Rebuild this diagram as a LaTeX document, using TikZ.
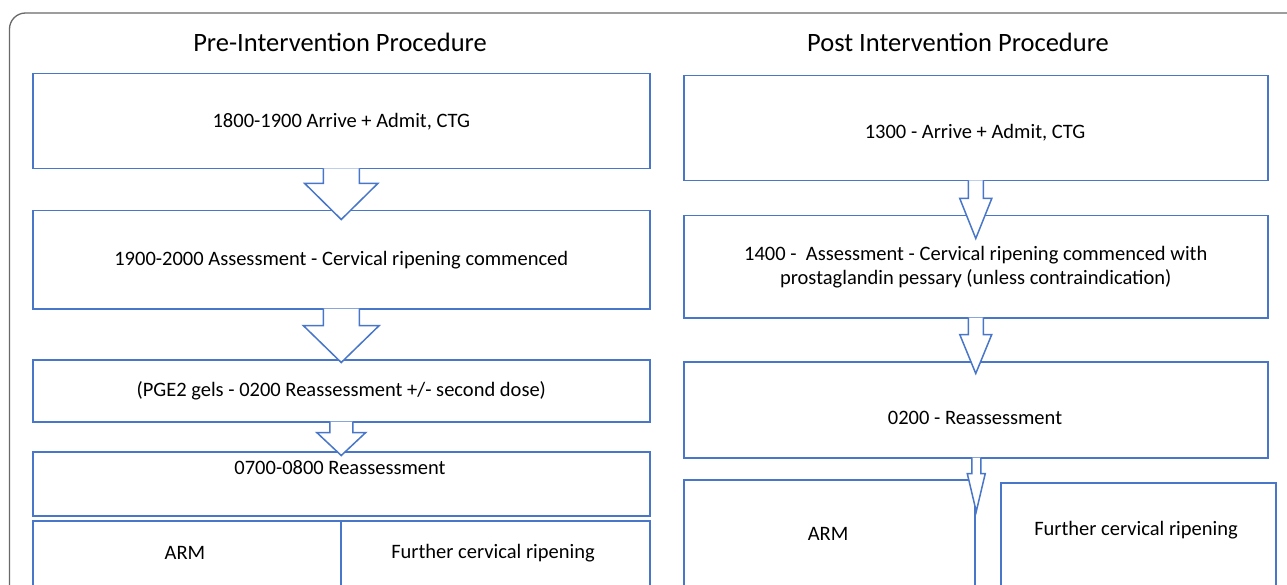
\documentclass[tikz,border=0pt]{standalone}
\usepackage{fontspec}
\setmainfont{Carlito}
\usetikzlibrary{calc}
\definecolor{boxblue}{RGB}{72,118,200}
\definecolor{framegray}{RGB}{105,105,105}
\tikzset{
  box/.style={draw=boxblue, line width=1.5pt, fill=white, rectangle, inner sep=0pt, anchor=north west, align=center, font=\fontsize{20.5}{24}\selectfont},
  txt/.style={inner sep=0pt, align=center, font=\fontsize{20.5}{24}\selectfont},
  ttl/.style={inner sep=0pt, font=\fontsize{26.5}{30}\selectfont},
  barr/.style={draw=boxblue, line width=1.5pt, fill=white, line join=miter},
}
% #1 source node, #2 x-shift of centre, #3 shaft half width, #4 head half width, #5 head start (down), #6 tip (down)
\newcommand\blockarrow[6]{%
  \begin{scope}[shift={($(#1.south)+(#2,0)$)}]
    \draw[barr] (-#3,-1) -- (-#3,#5) -- (-#4,#5) -- (0,#6) -- (#4,#5) -- (#3,#5) -- (#3,-1);
  \end{scope}}
\begin{document}
\begin{tikzpicture}[x=1pt,y=-1pt]
\useasboundingbox (0,0) rectangle (1287,585);
\clip (0,0) rectangle (1287,585);
\fill[white] (0,0) rectangle (1287,585);
% outer frame
\draw[framegray, line width=1.3pt, rounded corners=16pt] (9.5,600) -- (9.5,13) -- (1300,13);

% titles
\node[ttl] (t1) at (340,42) {Pre-Intervention Procedure};
\node[ttl] (t2) at (958,42) {Post Intervention Procedure};

% left column
\node[box, minimum width=617, minimum height=95] (p1) at (32,73) {1800-1900 Arrive + Admit, CTG};
\node[box, minimum width=617, minimum height=98] (p2) at (32,210) {1900-2000 Assessment - Cervical ripening commenced};
\node[box, minimum width=617, minimum height=62] (p3) at (32,359) {(PGE2 gels - 0200 Reassessment +/- second dose)};
\node[box, minimum width=617, minimum height=64] (p4) at (32,451) {};
\node[txt] (p4t) at (340,468) {0700-0800 Reassessment};
\node[box, minimum width=308, minimum height=70] (p5a) at (32,520) {};
\node[txt] (p5at) at (185,553) {ARM};
\node[box, minimum width=309, minimum height=70] (p5b) at (340,520) {};
\node[txt] (p5bt) at (493,553) {Further cervical ripening};

\blockarrow{p1}{0}{18}{36.5}{14}{50}
\blockarrow{p2}{0}{18}{38}{16}{53}
\blockarrow{p3}{0}{11.5}{24.5}{10}{33}

% right column
\node[box, minimum width=584, minimum height=105] (q1) at (683,75) {};
\node[txt] (q1t) at (975,133) {1300 - Arrive + Admit, CTG};
\node[box, minimum width=584, minimum height=102] (q2) at (683,215) {1400 -\ \ Assessment - Cervical ripening commenced with\\prostaglandin pessary (unless contraindication)};
\node[box, minimum width=584, minimum height=96] (q3) at (683,361) {};
\node[txt] (q3t) at (975,418) {0200 - Reassessment};
\node[box, minimum width=291, minimum height=120] (q4a) at (683,479) {};
\node[txt] (q4at) at (828,534) {ARM};
\node[box, minimum width=275, minimum height=120] (q4b) at (1000,482) {};
\node[txt] (q4bt) at (1136,530) {Further cervical ripening};

\blockarrow{q1}{0}{7.5}{16}{17}{57}
\blockarrow{q2}{0}{7.5}{16}{16}{55}
\blockarrow{q3}{0.5}{4.5}{9}{15}{53}
\end{tikzpicture}
\end{document}
